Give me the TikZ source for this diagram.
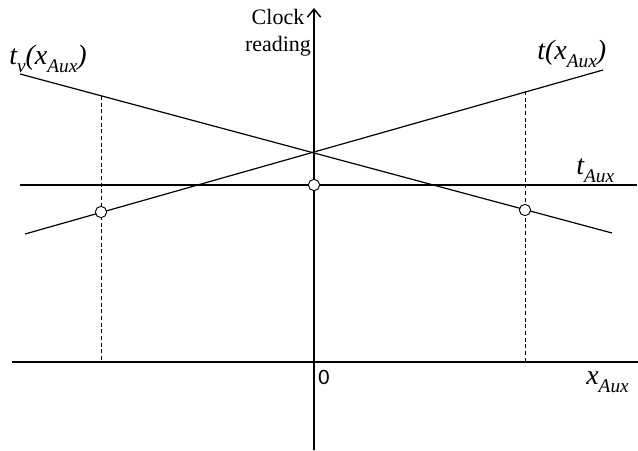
\documentclass[tikz,border=0pt]{standalone}
\usepackage{fontspec}
\setmainfont{Liberation Serif}
\newfontfamily\zerofont{Carlito}
\usetikzlibrary{arrows.meta}
\newcommand{\subx}[1]{\raisebox{-0.3em}{\fontsize{14.5}{14.5}\selectfont\itshape #1}}
\tikzset{
  axisline/.style={line width=1.1pt},
  graphline/.style={line width=0.9pt},
  guide/.style={line width=0.6pt, dash pattern=on 3pt off 2pt},
  marker/.style={circle, draw, fill=white, line width=0.7pt, inner sep=0pt, minimum size=8.5pt},
  biglabel/.style={font=\fontsize{21}{24}\selectfont\itshape, inner sep=0pt},
}
\begin{document}
\begin{tikzpicture}[x=0.75pt, y=-0.75pt]
\useasboundingbox (0,0) rectangle (638,450);
% coordinates
\coordinate (ybot) at (314,450);
\coordinate (ytop) at (314,8);
\coordinate (xl) at (12,362);
\coordinate (xr) at (638,362);
\coordinate (hl) at (20,185);
\coordinate (hr) at (637,185);
\coordinate (tl) at (25,234);
\coordinate (tr) at (603,70);
\coordinate (vl) at (20,74);
\coordinate (vr) at (612,233);
\coordinate (dla) at (101,96);
\coordinate (dlb) at (101,362);
\coordinate (dra) at (525,91);
\coordinate (drb) at (525,362);
% axes
\draw[axisline] (xl) -- (xr);
\draw[axisline, -{Straight Barb[length=6pt,width=10pt,line width=1.1pt]}] (ybot) -- (ytop);
% lines
\draw[graphline] (hl) -- (hr);
\draw[graphline] (tl) -- (tr);
\draw[graphline] (vl) -- (vr);
\draw[guide] (dla) -- (dlb);
\draw[guide] (dra) -- (drb);
% markers
\node[marker] (m1) at (101,212) {};
\node[marker] (m2) at (314,185) {};
\node[marker] (m3) at (525,210) {};
% labels
\node[align=center, font=\fontsize{16.5}{20}\selectfont, inner sep=0pt, anchor=north] (clk) at (278,9) {Clock\\reading};
\node[biglabel, anchor=base west] (tv) at (9,64) {t\subx{v}(x\subx{Aux})};
\node[biglabel, anchor=base west] (tx) at (537,59) {t(x\subx{Aux})};
\node[biglabel, anchor=base west] (ta) at (576,174) {t\subx{Aux}};
\node[biglabel, anchor=base west] (xa) at (586,384) {x\subx{Aux}};
\node[font=\zerofont\fontsize{16.5}{18}\selectfont, anchor=base west, inner sep=0pt] (zero) at (318,384) {0};
\end{tikzpicture}
\end{document}
